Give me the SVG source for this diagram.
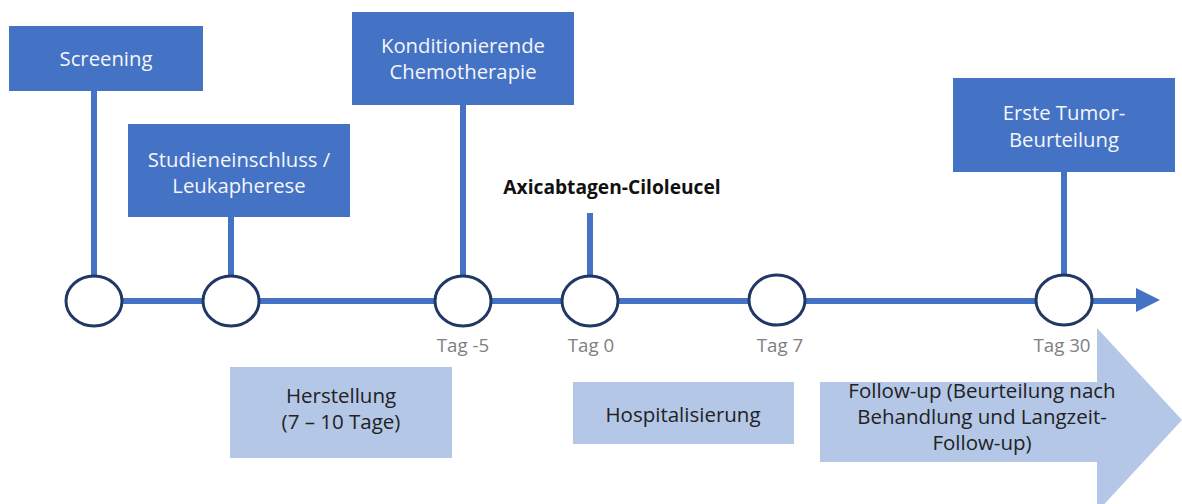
<svg xmlns="http://www.w3.org/2000/svg" width="1182" height="504" viewBox="0 0 1182 504">
  <style>
    .dark { fill: #4472C4; }
    .light { fill: #B4C7E7; }
    .wt { font-family: "Open Sans", "Noto Sans", sans-serif; font-size: 20.3px; fill: #F4F6FA; text-anchor: middle; }
    .bt { font-family: "Open Sans", "Noto Sans", sans-serif; font-size: 20.5px; fill: #222222; text-anchor: middle; }
    .tag { font-family: "Open Sans", "Noto Sans", sans-serif; font-size: 18.7px; fill: #808080; text-anchor: middle; }
    .axi { font-family: "Open Sans", "Noto Sans", sans-serif; font-size: 19.2px; font-weight: bold; fill: #111111; text-anchor: middle; }
    .ln { stroke: #4472C4; stroke-width: 6; fill: none; }
    .dot { fill: #FFFFFF; stroke: #1F3864; stroke-width: 3; }
  </style>
  <rect width="1182" height="504" fill="#FFFFFF"/>

  <g id="followup-arrow">
    <polygon class="light" points="820,382 1097,382 1097,328 1182,420 1097,512 1097,462 820,462"/>
    <text class="bt" x="982" y="398">Follow-up (Beurteilung nach</text>
    <text class="bt" x="982" y="424">Behandlung und Langzeit-</text>
    <text class="bt" x="982" y="450">Follow-up)</text>
  </g>

  <g id="connectors">
    <line class="ln" x1="94" y1="301" x2="1140" y2="301"/>
    <polygon points="1136,288 1160,300 1136,312" fill="#4472C4"/>
    <line class="ln" x1="94" y1="90" x2="94" y2="278"/>
    <line class="ln" x1="231" y1="216" x2="231" y2="278"/>
    <line class="ln" x1="463" y1="104" x2="463" y2="278"/>
    <line class="ln" x1="590" y1="213" x2="590" y2="278"/>
    <line class="ln" x1="1064" y1="171" x2="1064" y2="278"/>
  </g>

  <g id="screening">
    <rect class="dark" x="9" y="26" width="194" height="65"/>
    <text class="wt" x="106" y="66">Screening</text>
  </g>
  <g id="studieneinschluss">
    <rect class="dark" x="128" y="124" width="222" height="93"/>
    <text class="wt" x="239" y="167">Studieneinschluss /</text>
    <text class="wt" x="239" y="193">Leukapherese</text>
  </g>
  <g id="konditionierende">
    <rect class="dark" x="352" y="12" width="222" height="93"/>
    <text class="wt" x="463" y="53">Konditionierende</text>
    <text class="wt" x="463" y="79">Chemotherapie</text>
  </g>
  <g id="axicabtagen">
    <text class="axi" x="612" y="194">Axicabtagen-Ciloleucel</text>
  </g>
  <g id="erste-tumor">
    <rect class="dark" x="953" y="78" width="222" height="94"/>
    <text class="wt" x="1064" y="120">Erste Tumor-</text>
    <text class="wt" x="1064" y="147">Beurteilung</text>
  </g>

  <g id="circle-1"><ellipse class="dot" cx="94" cy="301" rx="28" ry="25"/></g>
  <g id="circle-2"><ellipse class="dot" cx="231" cy="301" rx="28" ry="25"/></g>
  <g id="circle-3"><ellipse class="dot" cx="463" cy="301" rx="28" ry="25"/><text class="tag" x="463" y="352">Tag -5</text></g>
  <g id="circle-4"><ellipse class="dot" cx="590" cy="301" rx="28" ry="25"/><text class="tag" x="591" y="352">Tag 0</text></g>
  <g id="circle-5"><ellipse class="dot" cx="777" cy="300" rx="28" ry="25"/><text class="tag" x="780" y="352">Tag 7</text></g>
  <g id="circle-6"><ellipse class="dot" cx="1064" cy="300" rx="28" ry="25"/><text class="tag" x="1062" y="352">Tag 30</text></g>

  <g id="herstellung">
    <rect class="light" x="230" y="367" width="222" height="91"/>
    <text class="bt" x="341" y="403">Herstellung</text>
    <text class="bt" x="341" y="429">(7 – 10 Tage)</text>
  </g>
  <g id="hospitalisierung">
    <rect class="light" x="573" y="382" width="221" height="62"/>
    <text class="bt" x="683" y="422">Hospitalisierung</text>
  </g>
</svg>
